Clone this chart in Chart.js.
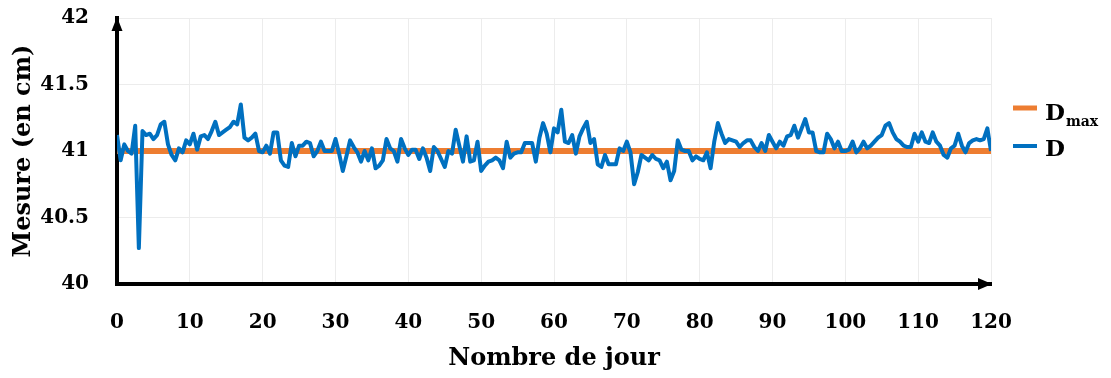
<!DOCTYPE html>
<html>
<head>
<meta charset="utf-8">
<script src="https://cdn.jsdelivr.net/npm/chart.js@4.4.1/dist/chart.umd.min.js"></script>
<style>
  html, body { margin: 0; padding: 0; background: #fff; }
  #wrap { width: 1111px; height: 378px; }
</style>
</head>
<body>
<div id="wrap"><canvas id="mesureChart"></canvas></div>
<script>
// measured values, one every half day
const dayStep = 0.5;
const dValues = [
  41.12, 40.93, 41.05, 41.00, 40.98, 41.19, 40.27, 41.15, 41.12, 41.13,
  41.09, 41.12, 41.20, 41.22, 41.05, 40.97, 40.93, 41.02, 40.99, 41.08,
  41.05, 41.13, 41.01, 41.11, 41.12, 41.09, 41.15, 41.22, 41.12, 41.14,
  41.16, 41.18, 41.22, 41.20, 41.35, 41.10, 41.08, 41.10, 41.13, 41.00,
  40.99, 41.04, 40.98, 41.14, 41.14, 40.93, 40.89, 40.88, 41.06, 40.96,
  41.04, 41.04, 41.07, 41.06, 40.96, 41.00, 41.07, 41.00, 41.00, 41.00,
  41.09, 40.98, 40.85, 40.96, 41.08, 41.03, 40.99, 40.92, 41.00, 40.93,
  41.02, 40.87, 40.89, 40.93, 41.09, 41.02, 41.00, 40.92, 41.09, 41.02,
  40.97, 41.01, 41.01, 40.94, 41.02, 40.95, 40.85, 41.03, 41.00, 40.94,
  40.88, 41.00, 40.98, 41.16, 41.04, 40.92, 41.11, 40.92, 40.93, 41.07,
  40.85, 40.89, 40.92, 40.93, 40.95, 40.93, 40.87, 41.07, 40.95, 40.98,
  40.99, 40.99, 41.06, 41.06, 41.06, 40.92, 41.10, 41.21, 41.13, 40.99,
  41.17, 41.14, 41.31, 41.07, 41.06, 41.12, 40.98, 41.11, 41.17, 41.22,
  41.06, 41.09, 40.90, 40.88, 40.97, 40.90, 40.90, 40.90, 41.02, 41.00,
  41.07, 40.99, 40.75, 40.84, 40.97, 40.95, 40.93, 40.97, 40.94, 40.93,
  40.87, 40.92, 40.78, 40.85, 41.08, 41.01, 41.00, 41.00, 40.93, 40.96,
  40.94, 40.93, 40.99, 40.87, 41.07, 41.21, 41.13, 41.06, 41.09, 41.08,
  41.07, 41.03, 41.06, 41.08, 41.08, 41.03, 41.00, 41.06, 41.00, 41.12,
  41.07, 41.02, 41.07, 41.04, 41.11, 41.12, 41.19, 41.10, 41.17, 41.24,
  41.14, 41.14, 41.00, 40.99, 40.99, 41.13, 41.09, 41.02, 41.07, 41.00,
  41.00, 41.01, 41.07, 40.99, 41.02, 41.07, 41.02, 41.04, 41.07, 41.10,
  41.12, 41.19, 41.21, 41.14, 41.09, 41.07, 41.04, 41.03, 41.03, 41.13,
  41.07, 41.14, 41.07, 41.06, 41.14, 41.07, 41.04, 40.97, 40.95, 41.02,
  41.04, 41.13, 41.04, 40.99, 41.06, 41.08, 41.09, 41.08, 41.09, 41.17,
  41.00
];
// limit line
const dmaxDays = [0, 120];
const dmaxValues = [41, 41];

const xTicks = [0, 10, 20, 30, 40, 50, 60, 70, 80, 90, 100, 110, 120];
const yTicks = [40, 40.5, 41, 41.5, 42];

const FONT = '"DejaVu Serif", "Liberation Serif", serif';
const ORANGE = '#ED7D31';
const BLUE = '#0070C0';

const dPoints = dValues.map((v, i) => ({ x: i * dayStep, y: v }));
const dmaxPoints = dmaxDays.map((d, i) => ({ x: d, y: dmaxValues[i] }));

// black arrow heads on the axes + legend with subscript
const axesAndLegend = {
  id: 'axesAndLegend',
  afterDraw(chart) {
    const { ctx, chartArea: a } = chart;
    ctx.save();
    ctx.fillStyle = '#000';
    // y axis arrow
    ctx.beginPath();
    ctx.moveTo(a.left, a.top - 1);
    ctx.lineTo(a.left - 5.5, a.top + 13);
    ctx.lineTo(a.left + 5.5, a.top + 13);
    ctx.closePath();
    ctx.fill();
    // x axis arrow
    ctx.beginPath();
    ctx.moveTo(a.right + 1, a.bottom);
    ctx.lineTo(a.right - 13, a.bottom - 6);
    ctx.lineTo(a.right - 13, a.bottom + 6);
    ctx.closePath();
    ctx.fill();

    // legend
    const lx = a.right + 22;
    const items = [
      { color: ORANGE, width: 5, y: 108, label: 'D', sub: 'max', base: 120 },
      { color: BLUE, width: 4, y: 146, label: 'D', sub: '', base: 156 }
    ];
    items.forEach(it => {
      ctx.strokeStyle = it.color;
      ctx.lineWidth = it.width;
      ctx.beginPath();
      ctx.moveTo(lx, it.y);
      ctx.lineTo(lx + 24, it.y);
      ctx.stroke();
      ctx.fillStyle = '#000';
      ctx.textBaseline = 'alphabetic';
      ctx.textAlign = 'left';
      ctx.font = 'bold 23px ' + FONT;
      ctx.fillText(it.label, lx + 32, it.base);
      if (it.sub) {
        const w = ctx.measureText(it.label).width;
        ctx.font = 'bold 14px ' + FONT;
        ctx.fillText(it.sub, lx + 32 + w + 1, it.base + 6);
      }
    });
    ctx.restore();
  }
};

new Chart(document.getElementById('mesureChart'), {
  type: 'line',
  data: {
    datasets: [
      {
        label: 'D',
        data: dPoints,
        borderColor: BLUE,
        borderWidth: 4,
        pointRadius: 0,
        tension: 0,
        borderJoinStyle: 'round',
        order: 0
      },
      {
        label: 'Dmax',
        data: dmaxPoints,
        borderColor: ORANGE,
        borderWidth: 6,
        pointRadius: 0,
        order: 1
      }
    ]
  },
  options: {
    responsive: true,
    maintainAspectRatio: false,
    animation: false,
    layout: { padding: { top: 18, right: 120, left: 0, bottom: 0 } },
    plugins: {
      legend: { display: false },
      tooltip: { enabled: false }
    },
    scales: {
      x: {
        type: 'linear',
        min: 0,
        max: 120,
        afterBuildTicks: s => { s.ticks = xTicks.map(v => ({ value: v })); },
        afterFit: s => { s.height = 94; },
        ticks: {
          padding: 27,
          maxRotation: 0,
          color: '#000',
          font: { family: FONT, size: 20, weight: 'bold' }
        },
        grid: { color: '#ececec', lineWidth: 1, drawTicks: false },
        border: { color: '#000', width: 4 },
        title: {
          display: true,
          text: 'Nombre de jour',
          color: '#000',
          font: { family: FONT, size: 24, weight: 'bold' },
          padding: { top: 0, bottom: 5 }
        }
      },
      y: {
        min: 40,
        max: 42,
        afterBuildTicks: s => { s.ticks = yTicks.map(v => ({ value: v })); },
        // fixed width, and no extra room above/below for the tick labels
        afterFit: s => { s.width = 117; s.paddingTop = 0; s.paddingBottom = 0; },
        ticks: {
          padding: 28,
          color: '#000',
          font: { family: FONT, size: 20, weight: 'bold' },
          callback: v => String(v)
        },
        grid: { color: '#ececec', lineWidth: 1, drawTicks: false },
        border: { color: '#000', width: 4 },
        title: {
          display: true,
          text: 'Mesure (en cm)',
          color: '#000',
          font: { family: FONT, size: 24, weight: 'bold' },
          padding: { top: 9, bottom: 0 }
        }
      }
    }
  },
  plugins: [axesAndLegend]
});
</script>
</body>
</html>
